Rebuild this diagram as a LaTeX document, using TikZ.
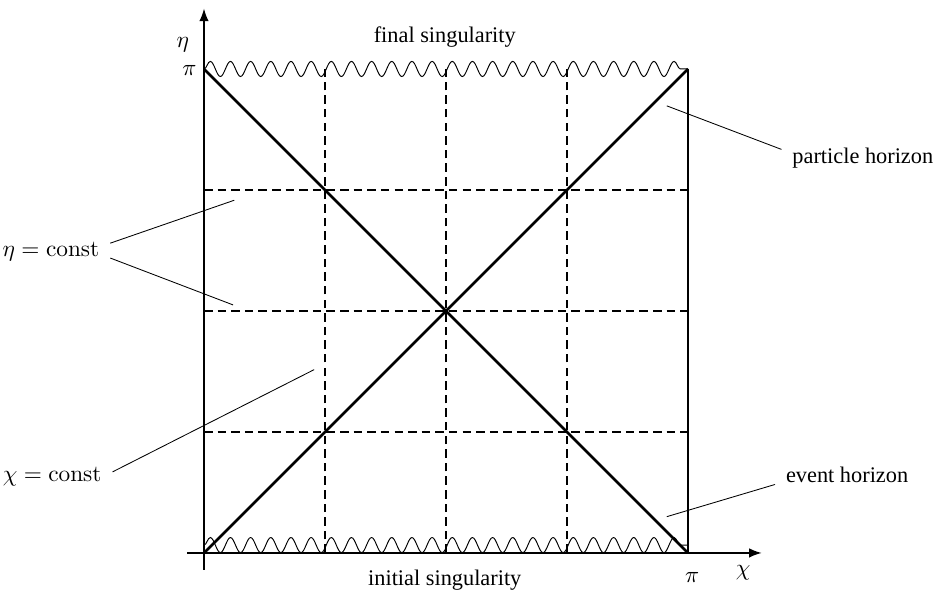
\documentclass[tikz,border=0pt]{standalone}
\usepackage[no-math]{fontspec}
\setmainfont{Liberation Serif}
\usepackage{amsmath}
\usetikzlibrary{arrows.meta,decorations.pathmorphing}

\begin{document}
\begin{tikzpicture}[
			axis/.style={line width=0.8pt, -{Latex[length=6pt,width=4.5pt]}},
			grid/.style={line width=0.6pt, dash pattern=on 4pt off 2.4pt},
			horizon/.style={line width=1.3pt},
			wave/.style={line width=0.45pt, decorate, decoration={snake, amplitude=0.125cm, segment length=0.3333cm}},
			leader/.style={line width=0.4pt},
			lbl/.style={inner sep=5pt},
			every node/.style={font=\fontsize{10.5}{12}\selectfont}
			]
			\useasboundingbox (-3.372,-0.777) rectangle (12.281,9.140);

			% Axes and box
			\draw[axis] (-0.28,0) -- (9.22,0);
			\draw[axis] (0,-0.28) -- (0,9.0);
			\draw[line width=0.8pt] (8,0) -- (8,8);
			\node (etaax) at (-0.35,8.40) {$\eta$};
			\node (chiax) at (8.91,-0.33) {$\chi$};
			\node (pitop) at (-0.24,7.98) {$\pi$};
			\node (piright) at (8.07,-0.40) {$\pi$};

			% Singularities
			\draw[wave] (0,8) -- (8,8);
			\draw[wave] (0,0.13) -- (8,0.13);
			\node (finalsing) at (3.98,8.53) {final singularity};
			\node (initsing) at (3.98,-0.45) {initial singularity};

			% eta = const and chi = const lines
			\foreach \k in {2,4,6} {
				\draw[grid] (\k,0) -- (\k,8);
				\draw[grid] (0,\k) -- (8,\k);
			}

			% Horizons
			\draw[horizon] (0,0) -- (8,8);
			\draw[horizon] (0,8) -- (8,0);

			% Labels with leaders
			\node[lbl] (etaconst) at (-2.53,4.98) {$\eta = \mathrm{const}$};
			\node[lbl] (chiconst) at (-2.51,1.27) {$\chi = \mathrm{const}$};
			\node[lbl] (particle) at (10.89,6.53) {particle horizon};
			\node[lbl] (event) at (10.63,1.29) {event horizon};

			\coordinate (etaA) at (0.50,5.83);
			\coordinate (etaB) at (0.48,4.10);
			\coordinate (chiA) at (1.82,3.03);
			\coordinate (partA) at (7.65,7.39);
			\coordinate (evA) at (7.65,0.60);

			\draw[leader] ([yshift=4pt]etaconst.east) -- (etaA);
			\draw[leader] ([yshift=-3pt]etaconst.east) -- (etaB);
			\draw[leader] ([yshift=2pt]chiconst.east) -- (chiA);
			\draw[leader] ([yshift=4pt]particle.west) -- (partA);
			\draw[leader] ([yshift=-4.5pt]event.west) -- (evA);
		\end{tikzpicture}
\end{document}
